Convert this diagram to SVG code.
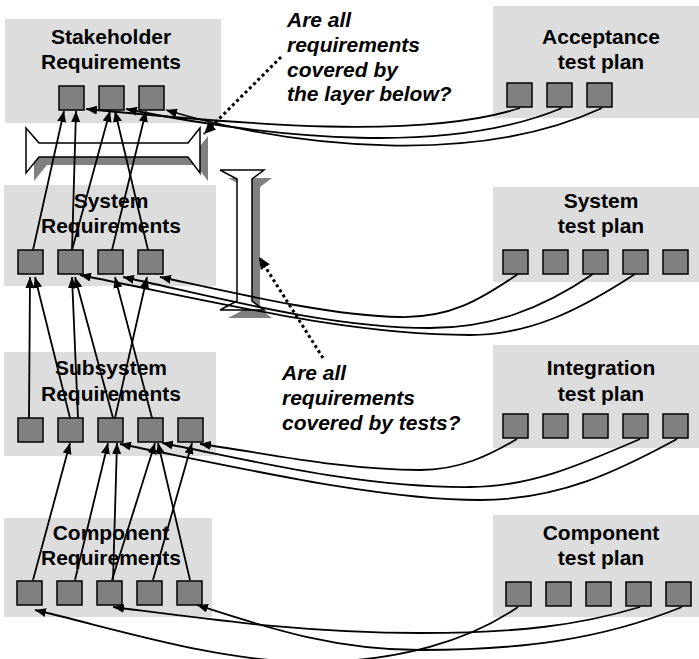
<svg xmlns="http://www.w3.org/2000/svg" width="699" height="659" viewBox="0 0 699 659">
<defs>
<marker id="ah" markerUnits="userSpaceOnUse" markerWidth="11" markerHeight="9" refX="11" refY="4.5" orient="auto"><path d="M0,0 L11,4.5 L0,9 z" fill="#000"/></marker>
<marker id="ahd" markerUnits="userSpaceOnUse" markerWidth="12" markerHeight="11" refX="12" refY="5.5" orient="auto"><path d="M0,0 L12,5.5 L0,11 z" fill="#000"/></marker>
</defs>
<style>
.box{fill:#dddddd}
.sq{fill:#808080;stroke:#000;stroke-width:1.5}
.lbl{font-family:"Liberation Sans",Arial,sans-serif;font-weight:bold;font-size:21px;fill:#000;text-anchor:middle}
.q{font-family:"Liberation Sans",Arial,sans-serif;font-weight:bold;font-style:italic;font-size:21px;fill:#000}
.beam{fill:#fff;stroke:#000;stroke-width:1.5}
.shadow{fill:#808080}
.c{fill:none;stroke:#000;stroke-width:1.8;marker-end:url(#ah)}
.d{fill:none;stroke:#000;stroke-width:3;stroke-dasharray:3 3;marker-end:url(#ahd)}
</style>
<g id="stakeholder-req">
<rect class="box" x="5" y="19" width="216" height="104"/>
<text class="lbl" x="111" y="44">Stakeholder</text>
<text class="lbl" x="111" y="69">Requirements</text>
<rect class="sq" x="59" y="86" width="25" height="24"/>
<rect class="sq" x="99" y="86" width="25" height="24"/>
<rect class="sq" x="139" y="86" width="25" height="24"/>
</g>
<g id="acceptance-test">
<rect class="box" x="493" y="6" width="206" height="112"/>
<text class="lbl" x="601" y="44">Acceptance</text>
<text class="lbl" x="601" y="69">test plan</text>
<rect class="sq" x="507" y="83" width="25" height="24"/>
<rect class="sq" x="547" y="83" width="25" height="24"/>
<rect class="sq" x="587" y="83" width="25" height="24"/>
</g>
<g id="system-req">
<rect class="box" x="4" y="185" width="212" height="101"/>
<text class="lbl" x="111" y="208">System</text>
<text class="lbl" x="111" y="233">Requirements</text>
<rect class="sq" x="18" y="250" width="25" height="24"/>
<rect class="sq" x="58" y="250" width="25" height="24"/>
<rect class="sq" x="98" y="250" width="25" height="24"/>
<rect class="sq" x="138" y="250" width="25" height="24"/>
</g>
<g id="system-test">
<rect class="box" x="493" y="187" width="206" height="95"/>
<text class="lbl" x="601" y="208">System</text>
<text class="lbl" x="601" y="233">test plan</text>
<rect class="sq" x="503" y="250" width="25" height="24"/>
<rect class="sq" x="543" y="250" width="25" height="24"/>
<rect class="sq" x="583" y="250" width="25" height="24"/>
<rect class="sq" x="623" y="250" width="25" height="24"/>
<rect class="sq" x="663" y="250" width="25" height="24"/>
</g>
<g id="subsystem-req">
<rect class="box" x="4" y="352" width="212" height="104"/>
<text class="lbl" x="111" y="375">Subsystem</text>
<text class="lbl" x="111" y="401">Requirements</text>
<rect class="sq" x="18" y="418" width="25" height="24"/>
<rect class="sq" x="58" y="418" width="25" height="24"/>
<rect class="sq" x="98" y="418" width="25" height="24"/>
<rect class="sq" x="138" y="418" width="25" height="24"/>
<rect class="sq" x="178" y="418" width="25" height="24"/>
</g>
<g id="integration-test">
<rect class="box" x="493" y="345" width="206" height="103"/>
<text class="lbl" x="601" y="375">Integration</text>
<text class="lbl" x="601" y="401">test plan</text>
<rect class="sq" x="503" y="414" width="25" height="24"/>
<rect class="sq" x="543" y="414" width="25" height="24"/>
<rect class="sq" x="583" y="414" width="25" height="24"/>
<rect class="sq" x="623" y="414" width="25" height="24"/>
<rect class="sq" x="663" y="414" width="25" height="24"/>
</g>
<g id="component-req">
<rect class="box" x="4" y="518" width="208" height="99"/>
<text class="lbl" x="111" y="540">Component</text>
<text class="lbl" x="111" y="565">Requirements</text>
<rect class="sq" x="17" y="581" width="25" height="24"/>
<rect class="sq" x="57" y="581" width="25" height="24"/>
<rect class="sq" x="97" y="581" width="25" height="24"/>
<rect class="sq" x="137" y="581" width="25" height="24"/>
<rect class="sq" x="177" y="581" width="25" height="24"/>
</g>
<g id="component-test">
<rect class="box" x="493" y="515" width="206" height="102"/>
<text class="lbl" x="601" y="540">Component</text>
<text class="lbl" x="601" y="565">test plan</text>
<rect class="sq" x="506" y="582" width="25" height="24"/>
<rect class="sq" x="546" y="582" width="25" height="24"/>
<rect class="sq" x="586" y="582" width="25" height="24"/>
<rect class="sq" x="626" y="582" width="25" height="24"/>
<rect class="sq" x="666" y="582" width="25" height="24"/>
</g>
<g id="layer-coverage-beam">
<polygon class="shadow" points="34,136 47,151 196,151 208,136 208,181 196,165 47,165 34,181"/>
<polygon class="beam" points="26,128 39,143 188,143 200,128 200,173 188,157 39,157 26,173"/>
</g>
<g id="test-coverage-beam">
<polygon class="shadow" points="228,178 272,178 260,187 260,309 272,318 228,318 245,309 245,187"/>
<polygon class="beam" points="220,170 264,170 252,179 252,301 264,310 220,310 237,301 237,179"/>
</g>
<g id="question-layer">
<text class="q" x="287" y="27">Are all</text>
<text class="q" x="287" y="52">requirements</text>
<text class="q" x="287" y="77">covered by</text>
<text class="q" x="287" y="101">the layer below?</text>
</g>
<g id="question-tests">
<text class="q" x="282" y="380">Are all</text>
<text class="q" x="282" y="405">requirements</text>
<text class="q" x="282" y="430">covered by tests?</text>
</g>
<g id="connectors">
<path class="c" d="M33,250 L64,111"/>
<path class="c" d="M72,250 L76,111"/>
<path class="c" d="M72,250 L110,111"/>
<path class="c" d="M112,250 L146,111"/>
<path class="c" d="M148,250 L115,111"/>
<path class="c" d="M520,108 C420,140 250,125 86,109"/>
<path class="c" d="M562,108 C450,155 280,140 126,109"/>
<path class="c" d="M602,108 C480,165 300,150 166,110"/>
<path class="c" d="M29,418 L30,277"/>
<path class="c" d="M70,418 L35,277"/>
<path class="c" d="M78,418 L72,277"/>
<path class="c" d="M113,418 L75,277"/>
<path class="c" d="M115,418 L147,277"/>
<path class="c" d="M152,418 L115,277"/>
<path class="c" d="M518,274 C480,300 450,318 400,317 C330,316 230,292 160,277"/>
<path class="c" d="M593,274 C540,310 490,328 430,328 C330,328 220,298 123,277"/>
<path class="c" d="M635,274 C580,310 530,335 470,335 C350,335 230,305 80,275"/>
<path class="c" d="M33,580 L70,443"/>
<path class="c" d="M75,580 L108,443"/>
<path class="c" d="M113,580 L117,443"/>
<path class="c" d="M112,580 L155,443"/>
<path class="c" d="M190,580 L158,443"/>
<path class="c" d="M153,580 L192,443"/>
<path class="c" d="M517,439 C490,455 460,470 420,470 C340,470 260,452 200,444"/>
<path class="c" d="M640,439 C580,465 530,487 470,487 C360,488 250,460 162,443"/>
<path class="c" d="M677,439 C620,470 560,500 480,500 C380,500 250,470 120,444"/>
<path class="c" d="M518,607 C470,640 400,662 310,662 C220,662 120,630 35,610"/>
<path class="c" d="M640,607 C580,625 520,633 420,633 C300,633 200,618 113,607"/>
<path class="c" d="M682,607 C600,640 520,650 420,650 C330,650 260,625 197,605"/>
<path class="d" d="M281,57 L204,134"/>
<path class="d" d="M323,358 L259,257"/>
</g>
</svg>
